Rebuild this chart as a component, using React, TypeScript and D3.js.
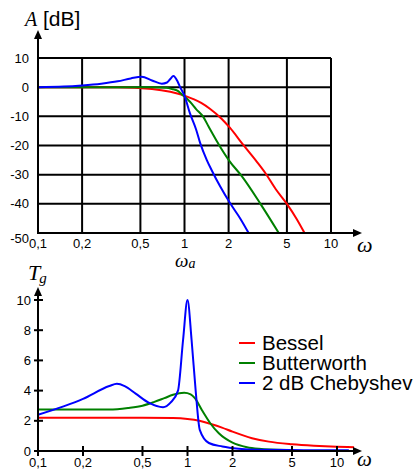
import React from "react";
import * as d3 from "d3";

// frequency ticks (shared by both plots)
const freqTicks = [0.1, 0.2, 0.5, 1, 2, 5, 10];
const freqLabels = ["0,1", "0,2", "0,5", "1", "2", "5", "10"];
const ampTicks = [10, 0, -10, -20, -30, -40, -50];
const delayTicks = [0, 2, 4, 6, 8, 10];

// amplitude response A [dB]
const besselAmpW = [0.1, 0.35, 0.6, 0.8, 1.0, 1.15, 1.3, 1.49, 1.79, 2.04, 2.52, 3.11, 3.57, 4.2, 5.0, 5.8, 6.6];
const besselAmpDb = [0, 0, -0.6, -1.6, -2.9, -4.1, -5.4, -7.4, -10.8, -13.9, -19.8, -25.5, -29.5, -35, -40, -45, -50];
const butterAmpW = [0.1, 0.6, 0.75, 0.82, 0.9, 0.96, 1.0, 1.09, 1.2, 1.34, 1.46, 1.75, 2.04, 2.46, 3.3, 4.4];
const butterAmpDb = [0, 0, -0.2, -0.6, -1.3, -2.5, -3.2, -5, -7.5, -10.1, -13.5, -20.4, -25.5, -30.5, -40, -50];
const chebAmpW = [0.1, 0.15, 0.2, 0.27, 0.35, 0.43, 0.51, 0.6, 0.7, 0.76, 0.8, 0.84, 0.9, 0.934, 1.0, 1.09, 1.2, 1.28, 1.42, 1.53, 1.75, 2.06, 2.4, 2.74];
const chebAmpDb = [0, 0.2, 0.6, 1.2, 2.0, 3.0, 3.6, 2.3, 1.2, 1.6, 2.8, 3.8, 1.8, 0, -3, -9, -14.5, -19.2, -25, -28.4, -34, -40, -45, -50];

// group delay Tg
const besselTgW = [0.1, 0.5, 0.8, 1.0, 1.2, 1.4, 1.7, 2.0, 2.7, 3.5, 5, 7, 10, 13];
const besselTg = [2.2, 2.2, 2.18, 2.12, 2.0, 1.82, 1.55, 1.28, 0.85, 0.62, 0.45, 0.35, 0.28, 0.25];
const butterTgW = [0.1, 0.3, 0.4, 0.5, 0.6, 0.7, 0.8, 0.95, 1.05, 1.12, 1.25, 1.42, 1.62, 2.0, 2.5, 3.0, 4.6];
const butterTg = [2.75, 2.75, 2.85, 3.0, 3.25, 3.5, 3.72, 3.85, 3.75, 3.5, 2.7, 1.84, 1.17, 0.55, 0.25, 0.15, 0.07];
const chebTgW = [0.1, 0.2, 0.3, 0.337, 0.38, 0.45, 0.55, 0.686, 0.77, 0.864, 0.934, 1.0, 1.065, 1.134, 1.208, 1.39, 1.71, 2.2, 3, 5, 12];
const chebTg = [2.4, 3.45, 4.3, 4.45, 4.3, 3.8, 3.2, 2.9, 3.2, 4.0, 7.35, 10, 7.35, 4.0, 1.4, 0.53, 0.3, 0.15, 0.08, 0.06, 0.05];

const legendNames = ["Bessel", "Butterworth", "2 dB Chebyshev"];
const colors = ["#ff0000", "#008000", "#0000ff"];

const sans = "Liberation Sans, Arial, sans-serif";
const serif = "Liberation Serif, Times New Roman, serif";

const App = () => {
  const width = 419;
  const height = 470;

  // top plot scales
  const xA = d3.scaleLog().domain([0.1, 10]).range([38, 331]);
  const yA = d3.scaleLinear().domain([-50, 10]).range([233, 58]);
  // bottom plot scales
  const xT = d3.scaleLog().domain([0.1, 10]).range([38, 337]);
  const yT = d3.scaleLinear().domain([0, 10]).range([451, 300]);

  const lineA = d3
    .line<[number, number]>()
    .x((d) => xA(d[0]))
    .y((d) => yA(d[1]))
    .curve(d3.curveMonotoneX);
  const lineT = d3
    .line<[number, number]>()
    .x((d) => xT(d[0]))
    .y((d) => yT(d[1]))
    .curve(d3.curveMonotoneX);

  const zip = (w: number[], v: number[]) => w.map((x, i) => [x, v[i]] as [number, number]);

  const ampSeries = [
    zip(besselAmpW, besselAmpDb),
    zip(butterAmpW, butterAmpDb),
    zip(chebAmpW, chebAmpDb),
  ];
  const tgSeries = [zip(besselTgW, besselTg), zip(butterTgW, butterTg), zip(chebTgW, chebTg)];

  const x0 = xA(0.1);
  const xEnd = xA(10);

  return (
    <svg
      width={width}
      height={height}
      style={{ position: "absolute", left: 0, top: 0, background: "#fff" }}
    >
      {/* ---------- amplitude plot ---------- */}
      <text x={25} y={26} fontFamily={serif} fontStyle="italic" fontSize={20}>
        A
      </text>
      <text x={43} y={26} fontFamily={sans} fontSize={21}>
        [dB]
      </text>

      {/* grid */}
      {freqTicks.slice(1).map((t, i) => (
        <line key={i} x1={xA(t)} x2={xA(t)} y1={yA(10)} y2={yA(-50)} stroke="#000" strokeWidth={2} />
      ))}
      {ampTicks.slice(0, -1).map((t, i) => (
        <line key={i} x1={x0} x2={xEnd} y1={yA(t)} y2={yA(t)} stroke="#000" strokeWidth={2} />
      ))}

      {/* curves */}
      {ampSeries.map((s, i) => (
        <path key={i} d={lineA(s) || ""} fill="none" stroke={colors[i]} strokeWidth={2} />
      ))}

      {/* axes */}
      <line x1={x0} x2={x0} y1={yA(-50) + 1} y2={38} stroke="#000" strokeWidth={2} />
      <path d={`M${x0 - 4},${39} L${x0},${30} L${x0 + 4},${39} Z`} fill="#000" />
      <line x1={x0 - 1} x2={354} y1={yA(-50)} y2={yA(-50)} stroke="#000" strokeWidth={2} />
      <path d={`M353,${yA(-50) - 4} L362,${yA(-50)} L353,${yA(-50) + 4} Z`} fill="#000" />

      {/* tick labels */}
      {ampTicks.map((t, i) => (
        <text
          key={i}
          x={29}
          y={yA(t) + (t === -50 ? 5 : 0)}
          dy="0.35em"
          textAnchor="end"
          fontFamily={sans}
          fontSize={13}
        >
          {t}
        </text>
      ))}
      {freqTicks.map((t, i) => (
        <text key={i} x={xA(t)} y={248} textAnchor="middle" fontFamily={sans} fontSize={13}>
          {freqLabels[i]}
        </text>
      ))}
      <text x={357} y={252} fontFamily={serif} fontStyle="italic" fontSize={22}>
        ω
      </text>
      <text x={175} y={267} fontFamily={serif} fontStyle="italic" fontSize={19}>
        ω
        <tspan fontSize={14} dy={1}>
          a
        </tspan>
      </text>

      {/* ---------- group delay plot ---------- */}
      <text x={28} y={280} fontFamily={serif} fontStyle="italic" fontSize={22}>
        T
        <tspan fontSize={15} dy={3} dx={-1}>
          g
        </tspan>
      </text>

      {tgSeries.map((s, i) => (
        <path key={i} d={lineT(s) || ""} fill="none" stroke={colors[i]} strokeWidth={2} />
      ))}

      <line x1={x0} x2={x0} y1={yT(0) + 1} y2={294} stroke="#000" strokeWidth={2} />
      <path d={`M${x0 - 4},${296} L${x0},${287} L${x0 + 4},${296} Z`} fill="#000" />
      <line x1={x0 - 1} x2={354} y1={yT(0)} y2={yT(0)} stroke="#000" strokeWidth={2} />
      <path d={`M353,${yT(0) - 4} L362,${yT(0)} L353,${yT(0) + 4} Z`} fill="#000" />

      {delayTicks.map((t, i) => (
        <g key={i}>
          <line x1={x0 - 4} x2={x0 + 5} y1={yT(t)} y2={yT(t)} stroke="#000" strokeWidth={2} />
          <text x={31} y={yT(t)} dy="0.35em" textAnchor="end" fontFamily={sans} fontSize={13}>
            {t}
          </text>
        </g>
      ))}
      {freqTicks.map((t, i) => (
        <g key={i}>
          <line x1={xT(t)} x2={xT(t)} y1={yT(0) - 5} y2={yT(0) + 5} stroke="#000" strokeWidth={2} />
          <text x={xT(t)} y={467} textAnchor="middle" fontFamily={sans} fontSize={13}>
            {freqLabels[i]}
          </text>
        </g>
      ))}
      <text x={357} y={466} fontFamily={serif} fontStyle="italic" fontSize={21}>
        ω
      </text>

      {/* legend */}
      {legendNames.map((name, i) => (
        <g key={i} transform={`translate(239, ${343 + i * 20})`}>
          <line x1={0} x2={16} y1={0} y2={0} stroke={colors[i]} strokeWidth={2} />
          <text x={23} y={0} dy="0.35em" fontFamily={sans} fontSize={20.5}>
            {name}
          </text>
        </g>
      ))}
    </svg>
  );
};

export default App;
